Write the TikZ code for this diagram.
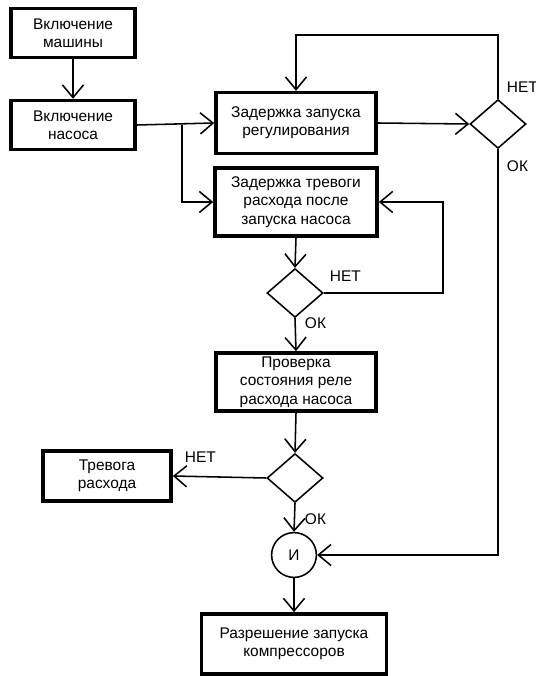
\documentclass[tikz,border=0pt]{standalone}
\usepackage{fontspec}
\setmainfont{Liberation Sans}
\usepackage{tikz}
\usetikzlibrary{
    arrows.meta,
    shapes.geometric,
    calc,
    positioning
}

\begin{document}
\begin{tikzpicture}[x=0.025cm, y=-0.025cm,
        font=\fontsize{11}{13}\selectfont,
        blk/.style={draw, line width=2.6pt, align=center, inner sep=0pt},
        dec/.style={draw, diamond, line width=1.1pt, minimum width=1.4cm, minimum height=1.22cm, inner sep=0pt},
        arr/.style={line width=1.1pt, -{Straight Barb[length=9pt, width=15pt, line width=1.1pt]}},
        lin/.style={line width=1.1pt}]
                        \useasboundingbox (0, 0) rectangle (536, 676);

                        \node[blk, minimum width=3.1cm, minimum height=1.22cm] (on) at (73, 33) {Включение\\машины};
                        \node[blk, minimum width=3.1cm, minimum height=1.22cm] (pump) at (73, 125) {Включение\\насоса};
                        \node[blk, minimum width=4.0cm, minimum height=1.52cm] (dreg) at (296, 123) {Задержка запуска\\регулирования};
                        \node[blk, minimum width=4.05cm, minimum height=1.7cm] (dalarm) at (296, 202) {Задержка тревоги\\расхода после\\запуска насоса};
                        \node[blk, minimum width=4.0cm, minimum height=1.45cm] (check) at (296, 382) {Проверка\\состояния реле\\расхода насоса};
                        \node[blk, minimum width=3.2cm, minimum height=1.25cm] (alarm) at (107, 476) {Тревога\\расхода};
                        \node[blk, minimum width=4.62cm, minimum height=1.5cm] (perm) at (294, 644) {Разрешение запуска\\компрессоров};

                        \node[dec] (q1) at (498, 124) {};
                        \node[dec] (q2) at (295, 293) {};
                        \node[dec] (q3) at (295, 478) {};
                        \node[draw, circle, line width=1.1pt, minimum size=1.12cm, inner sep=0pt] (and) at (294, 555) {И};

                        \coordinate (br) at (182, 125);
                        \coordinate (t1) at (498, 35);
                        \coordinate (r2) at (443, 293);

                        % labels
                        \node[anchor=west] (n1) at (502, 87) {НЕТ};
                        \node[anchor=west] (o1) at (502, 166) {ОК};
                        \node[anchor=west] (n2) at (325, 276) {НЕТ};
                        \node[anchor=west] (o2) at (300, 323) {ОК};
                        \node[anchor=west] (n3) at (180, 457) {НЕТ};
                        \node[anchor=west] (o3) at (300, 519) {ОК};

                        \draw[arr] (on) -- (pump);
                        \draw[arr] (pump.east) -- (dreg.west);
                        \draw[arr] (br) |- (dalarm.west);
                        \draw[arr] (dreg.east) -- (q1.west);
                        \draw[arr] (q1.north) -- (t1) -| (dreg.north);
                        \draw[arr] (q1.south) |- (and.east);
                        \draw[arr] (dalarm.south) -- (q2.north);
                        \draw[arr] (q2.east) -- (r2) |- (dalarm.east);
                        \draw[arr] (q2.south) -- (check.north);
                        \draw[arr] (check.south) -- (q3.north);
                        \draw[arr] (q3.west) -- (alarm.east);
                        \draw[arr] (q3.south) -- (and.north);
                        \draw[arr] (and.south) -- (perm.north);
                    \end{tikzpicture}
\end{document}
